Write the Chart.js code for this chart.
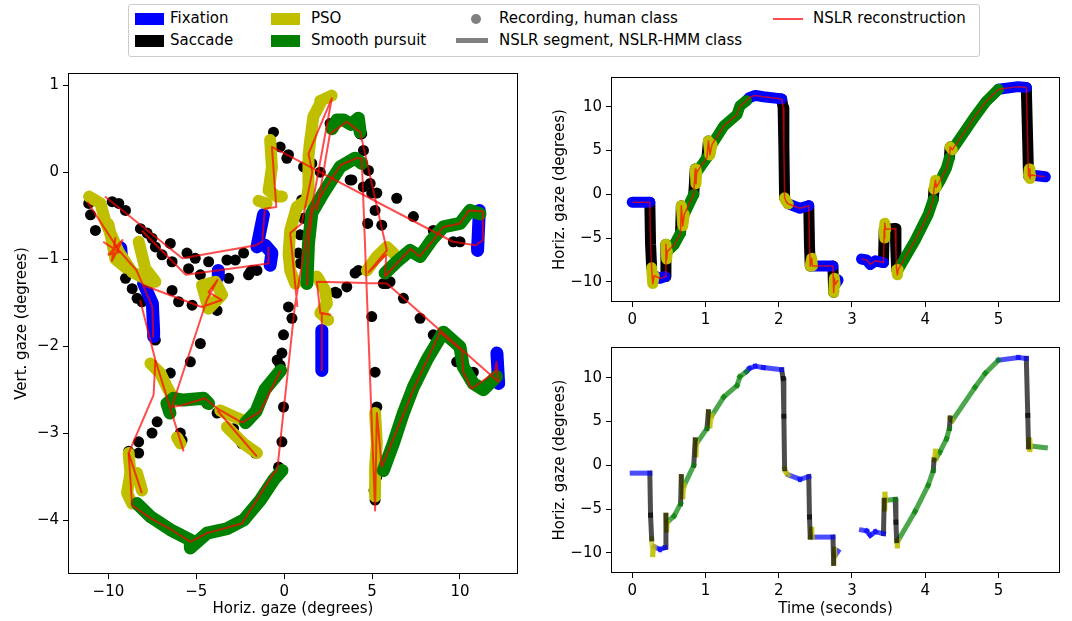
<!DOCTYPE html>
<html lang="en">
<head>
<meta charset="UTF-8">
<title>NSLR-HMM gaze classification</title>
<script src="https://cdn.jsdelivr.net/npm/chart.js"></script>
<style>
  body { margin: 0; background: #fff; font-family: "DejaVu Sans", sans-serif; }
  #wrap { position: relative; width: 1072px; height: 621px; overflow: hidden; }
  canvas { position: absolute; }
  .frame { position: absolute; left: 128px; top: 4px; width: 852px; height: 53px; border: 1px solid #ccc; border-radius: 3px; box-sizing: border-box; }
  .lg { position: absolute; font-size: 15px; line-height: 17px; color: #000; white-space: nowrap; }
  .sw { position: absolute; }
</style>
</head>
<body>
<div id="wrap">
  <div class="frame"></div>
  <div class="sw" style="left:135px;top:13px;width:29px;height:12px;background:#0000ff"></div>
  <div class="lg" style="left:170px;top:10px">Fixation</div>
  <div class="sw" style="left:135px;top:35px;width:29px;height:12px;background:#000"></div>
  <div class="lg" style="left:170px;top:32px">Saccade</div>
  <div class="sw" style="left:271px;top:13px;width:29px;height:12px;background:#bfbf00"></div>
  <div class="lg" style="left:311px;top:10px">PSO</div>
  <div class="sw" style="left:271px;top:35px;width:29px;height:12px;background:#008000"></div>
  <div class="lg" style="left:311px;top:32px">Smooth pursuit</div>
  <div class="sw" style="left:471px;top:14px;width:10px;height:10px;border-radius:50%;background:#808080"></div>
  <div class="lg" style="left:499px;top:10px">Recording, human class</div>
  <div class="sw" style="left:456px;top:38px;width:32px;height:5px;background:#808080"></div>
  <div class="lg" style="left:499px;top:32px">NSLR segment, NSLR-HMM class</div>
  <div class="sw" style="left:773px;top:18px;width:30px;height:2px;background:rgba(255,0,0,0.7)"></div>
  <div class="lg" style="left:813px;top:10px">NSLR reconstruction</div>

  <canvas id="gaze" width="530" height="561" style="left:0;top:60px"></canvas>
  <canvas id="recording" width="530" height="270" style="left:540px;top:60px"></canvas>
  <canvas id="segments" width="530" height="291" style="left:540px;top:330px"></canvas>
</div>

<script>
// tick labels
const tickGazeX = [-10, -5, 0, 5, 10];
const tickGazeY = [1, 0, -1, -2, -3, -4];
const tickTime = [0, 1, 2, 3, 4, 5];
const tickHoriz = [-10, -5, 0, 5, 10];

// NSLR segment breakpoints (time in s, horizontal gaze in deg)
const segTime = [0.00,0.24,0.25,0.265,0.28,0.30,0.38,0.45,0.46,0.47,0.48,0.57,0.66,0.67,0.69,0.71,0.84,0.86,0.87,0.88,
  1.02,1.04,1.06,1.09,1.25,1.43,1.47,1.56,1.60,1.68,1.79,2.04,2.06,2.07,2.08,2.10,2.13,2.29,2.41,2.42,
  2.43,2.45,2.46,2.74,2.75,2.76,2.77,2.81,3.13,3.20,3.25,3.32,3.43,3.44,3.445,3.45,3.46,3.59,3.60,3.61,
  3.62,3.63,3.86,4.04,4.11,4.12,4.14,4.15,4.20,4.29,4.33,4.34,4.37,4.68,4.82,5.00,5.27,5.38,5.40,5.41,
  5.42,5.43,5.44,5.64];
const segHoriz = [-0.9,-0.9,-5.7,-8.4,-10.2,-9.3,-9.6,-9.4,-5.7,-7.4,-6.5,-5.8,-4.4,-1.3,-3.6,-2.3,0.0,2.9,1.2,2.5,
  4.2,6.1,4.5,5.7,7.8,9.1,10.1,10.7,11.05,11.3,11.15,10.9,9.9,5.6,-0.4,-0.8,-1.1,-1.6,-1.3,-5.9,
  -8.2,-7.3,-8.2,-8.2,-11.2,-9.6,-10.3,-9.8,-7.4,-7.5,-8.0,-7.6,-7.8,-4.0,-5.0,-3.3,-4.0,-3.9,-6.5,-8.6,
  -9.2,-8.6,-5.3,-2.3,-0.6,0.6,1.6,0.8,1.5,3.0,4.2,5.4,5.1,8.9,10.5,12.0,12.3,12.2,5.7,2.1,
  2.9,1.8,2.2,2.0];
// NSLR-HMM class of each segment (between breakpoint i and i+1)
const segClass = ['fix','sacc','sacc','pso','pso','fix','fix','sacc','pso','pso',
  'pur','pur','sacc','pso','pso','pur','sacc','pso','pso','pur',
  'sacc','pso','pso','pur','pur','pur','pur','fix','fix','fix',
  'fix','sacc','sacc','sacc','pso','pso','fix','fix','sacc','sacc',
  'pso','pso','fix','sacc','pso','pso','fix','gap','fix','fix',
  'fix','fix','sacc','pso','pso','pso','pur','sacc','sacc','pso',
  'pso','pur','pur','pur','sacc','pso','pso','pur','pur','pur',
  'sacc','pso','pur','pur','pur','fix','fix','sacc','sacc','pso',
  'pso','pso','pur'];
// human label of the recording over the same stretches
const humanClass = segClass.map((c, i) => i === 56 ? 'sacc' : i === 82 ? 'fix' : c);

// gaze plane (horizontal, vertical deg), human classes
const gazeFixation = [
  [[-1.18,-0.49],[-1.55,-0.86]],
  [[-1.08,-0.84],[-0.70,-0.93],[-0.80,-1.07]],
  [[-8.0,-1.28],[-7.5,-1.51],[-7.43,-1.82],[-7.43,-1.89]],
  [[-9.3,-0.87],[-9.25,-1.0]],
  [[-3.75,-1.13],[-3.75,-1.2]],
  [[2.14,-1.82],[2.14,-2.28]],
  [[11.1,-0.44],[11.0,-0.9]],
  [[12.1,-2.08],[12.2,-2.43]]
];
const gazePursuit = [
  [[2.71,0.50],[3.0,0.6],[3.37,0.60],[3.8,0.55],[4.22,0.62],[4.32,0.46]],
  [[1.29,-1.28],[1.38,-0.82],[1.57,-0.47],[2.23,-0.24],[3.18,0.06],[4.03,0.16],[4.41,0.10]],
  [[5.74,-1.16],[6.40,-1.03],[7.16,-0.90],[7.73,-0.97],[8.39,-0.78],[9.05,-0.63],[10.0,-0.59],[10.57,-0.44],[11.14,-0.48]],
  [[5.64,-3.43],[6.21,-3.12],[6.78,-2.77],[7.35,-2.47],[8.11,-2.16],[9.05,-1.84],[10.0,-2.01],[10.19,-2.24],[10.76,-2.43],[11.33,-2.5],[12.08,-2.35]],
  [[-8.37,-3.81],[-7.61,-3.96],[-6.48,-4.11],[-5.34,-4.23],[-5.34,-4.32],[-4.39,-4.15],[-3.26,-4.10],[-2.31,-4.0],[-1.36,-3.77],[-0.61,-3.54],[-0.13,-3.43]],
  [[-6.5,-2.77],[-6.67,-2.66],[-6.3,-2.6],[-5.72,-2.62],[-4.59,-2.60],[-4.30,-2.66]],
  [[-2.2,-2.88],[-1.6,-2.75],[-1.1,-2.5],[-0.2,-2.28]]
];
const gazePso = [
  [[-11.1,-0.28],[-10.45,-0.36],[-10.17,-0.57],[-9.41,-0.92],[-8.65,-1.15],[-7.52,-1.26]],
  [[-8.28,-0.80],[-7.9,-1.11],[-7.33,-1.26]],
  [[-10.0,-0.6],[-9.6,-1.0],[-9.0,-1.1]],
  [[-4.68,-1.30],[-3.92,-1.26],[-3.54,-1.41],[-4.30,-1.57],[-4.68,-1.30]],
  [[-0.8,0.37],[-0.7,0.06],[-0.8,-0.09],[-0.89,-0.21],[-0.41,-0.28],[-0.13,-0.28]],
  [[-1.46,-0.33],[-1.0,-0.36]],
  [[2.05,0.79],[1.66,0.64],[1.48,0.37],[1.38,0.18],[1.38,-0.17],[1.29,-0.32],[0.72,-0.40],[0.34,-0.67],[0.25,-0.94],[0.34,-1.13],[0.63,-1.28]],
  [[2.05,0.82],[2.7,0.88]],
  [[4.7,-1.13],[5.27,-0.97],[5.84,-0.86],[6.21,-0.93]],
  [[1.86,-1.2],[2.33,-1.36],[2.43,-1.51],[2.05,-1.62],[2.5,-1.70]],
  [[-7.61,-2.20],[-7.05,-2.31],[-6.67,-2.47],[-6.38,-2.58]],
  [[-6.1,-3.05],[-5.9,-3.12]],
  [[-3.64,-2.74],[-2.88,-2.81],[-2.4,-2.85]],
  [[-3.26,-2.93],[-2.31,-3.12],[-1.55,-3.23]],
  [[-8.85,-3.23],[-8.75,-3.46],[-8.94,-3.69],[-8.65,-3.81]],
  [[-8.37,-3.46],[-8.09,-3.66]],
  [[5.17,-2.77],[5.27,-3.12],[5.17,-3.39],[5.17,-3.73]]
];
const gazeSaccadeDots = [
  [-11.12,-0.36],[-11.02,-0.49],[-10.74,-0.67],[-9.79,-0.34],[-9.41,-0.36],[-9.03,-0.44],[-8.18,-0.65],[-7.8,-0.70],
  [-7.52,-0.76],[-7.33,-0.86],[-6.95,-0.95],[-6.48,-0.82],[-6.38,-1.03],[-5.53,-0.93],[-5.06,-0.99],[-4.3,-1.03],
  [-3.26,-1.01],[-2.78,-1.01],[-2.31,-0.93],[-2.03,-1.18],[-5.44,-1.11],[-4.77,-1.18],[-3.16,-1.22],[-9.03,-1.22],
  [-8.65,-1.34],[-8.37,-1.45],[-8.09,-1.49],[-6.38,-1.36],[-6.01,-1.49],[-5.24,-1.53],[-3.82,-1.59],[-1.84,-1.13],
  [-1.55,-1.13],[-1.93,-1.15],
  [-0.61,0.46],[-0.23,0.29],[0.24,0.20],[0.15,0.16],[1.10,0.06],[1.57,0.10],[2.05,0.0],[3.75,-0.09],[4.5,-0.17],
  [4.89,-0.13],[5.27,-0.24],[6.4,-0.30],[7.35,-0.51],[8.48,-0.67],[9.62,-0.80],[10.0,-0.80],[10.95,-0.86],
  [4.41,0.44],[4.51,0.25],[4.79,0.02],[4.98,-0.24],[5.17,-0.44],[5.55,-0.61],[4.75,-0.59],
  [5.84,-1.28],[6.78,-1.45],[7.73,-1.68],[8.48,-1.87],[9.81,-2.18],[10.76,-2.30],[12.08,-2.39],
  [2.99,-1.39],[3.56,-1.32],[4.03,-1.16],[4.22,-1.13],[5.64,-1.28],[6.02,-1.26],[2.9,-1.38],
  [4.98,-1.66],[5.17,-2.30],[5.27,-2.70],[5.27,-3.50],[5.17,-3.77],[5.11,-3.66],
  [0.24,-1.55],[0.44,-1.68],[-0.04,-1.87],[-0.13,-2.08],[-0.23,-2.22],[-0.04,-2.70],[-0.13,-3.10],[-0.32,-3.39],[-0.4,-2.16],
  [-4.77,-1.97],[-5.34,-2.18],[-6.48,-2.31],[-7.23,-2.87],[-7.52,-3.0],[-8.28,-3.1],[-8.28,-3.23],[-8.85,-3.21],
  [-5.91,-3.0],[-5.81,-3.08],
  [-4.39,-2.66],[-3.82,-2.77],[-2.88,-2.95],[-2.4,-3.12],[-1.65,-3.23],
  [2.61,0.56],[4.32,0.44],[1.19,0.06],[1.0,-0.32],[1.1,-0.53],[0.91,-0.72],[0.81,-0.93],[0.91,-1.05],[3.85,-0.09],
  [-7.43,-1.62],[-7.33,-1.93]
];
// NSLR reconstruction in the gaze plane
const gazeReconstruction = [
  [[-11.2,-0.34],[-9.4,-0.9],[-8.4,-1.13],[-7.5,-1.55],[-7.45,-1.9]],
  [[-10.2,-0.28],[-5.8,-0.99],[-1.6,-0.84],[-1.25,-0.80],[-1.1,-0.42],[-0.45,-0.40],[-0.7,0.29],[9.6,-0.80],[10.9,-0.84],[11.3,-0.78],[11.3,-0.45]],
  [[-8.1,-0.67],[-5.6,-1.18],[-0.9,-1.05],[-0.9,-0.86]],
  [[-10.3,-0.8],[-9.4,-0.92],[-10.0,-0.95],[-9.2,-0.78],[-9.8,-1.02],[-9.6,-0.75]],
  [[-8.0,-1.3],[-4.7,-1.55],[-3.55,-1.47],[-4.3,-1.38],[-3.8,-1.24],[-4.4,-1.47],[-6.4,-2.7],[-5.8,-2.68],[-4.5,-2.6],[-3.8,-2.72],[-2.4,-2.88],[-1.4,-2.76],[-0.2,-2.28]],
  [[-3.8,-2.74],[-1.55,-3.27]],
  [[-8.2,-1.47],[-7.33,-2.16],[-5.72,-3.21]],
  [[-7.33,-2.16],[-7.43,-2.56],[-8.85,-3.23],[-8.65,-3.83],[-8.37,-3.87],[-7.6,-3.98],[-6.5,-4.1],[-5.34,-4.25],[-4.4,-4.15],[-2.4,-4.04],[-0.6,-3.46],[-0.4,-3.43]],
  [[-8.85,-3.23],[-8.1,-3.69]],
  [[-0.4,-3.43],[0.6,-1.55],[1.3,-0.7],[2.71,0.85],[1.38,0.21],[1.6,0.0],[1.0,-0.59],[0.34,-0.7],[0.75,-1.55]],
  [[1.86,-0.44],[2.6,0.44],[3.56,0.58],[4.32,0.46],[5.84,-0.9],[4.8,-1.15],[5.8,-0.95],[5.74,-1.2],[6.4,-1.05],[7.2,-0.88],[7.7,-0.97],[8.4,-0.8],[9.05,-0.63],[10.0,-0.59],[10.5,-0.44],[11.3,-0.45]],
  [[1.3,-1.3],[1.38,-0.82],[1.6,-0.45],[2.3,-0.2],[3.2,0.08],[4.1,0.16],[4.41,0.16],[5.17,-3.89],[5.27,-2.77],[5.55,-3.39],[7.35,-2.5],[8.86,-1.84],[10.1,-2.05],[10.19,-2.3],[10.66,-2.49],[11.99,-2.3],[12.08,-2.18],[12.18,-2.41],[5.84,-1.28],[1.86,-1.26],[2.05,-1.62],[2.6,-1.64],[2.14,-1.62],[2.14,-2.28]]
];

const humanColor = { fix: '#0000ff', sacc: '#000000', pso: '#bfbf00', pur: '#008000' };
const nslrColor = { fix: 'rgba(0,0,255,0.7)', sacc: 'rgba(0,0,0,0.7)', pso: 'rgba(191,191,0,0.7)', pur: 'rgba(0,128,0,0.7)' };
const drawOrder = { pso: 1, pur: 2, fix: 3, sacc: 4 };
const redLine = 'rgba(255,0,0,0.7)';
const font = { family: 'DejaVu Sans', size: 15 };

const fmt = v => String(v).replace('-', '\u2212');
const pts = arr => arr.map(p => ({ x: p[0], y: p[1] }));

function stroke(arr, color, width, order, cap) {
  return { data: pts(arr), showLine: true, borderColor: color, backgroundColor: color, borderWidth: width,
    pointRadius: 0, tension: 0, borderCapStyle: cap || 'round', borderJoinStyle: 'round', order: order };
}

// consecutive segments of one class joined into one stroke
function runs(classes) {
  const out = [];
  classes.forEach((c, i) => {
    if (c === 'gap') return;
    const last = out[out.length - 1];
    const p1 = [segTime[i + 1], segHoriz[i + 1]];
    if (last && last.cls === c && last.end === i) { last.pts.push(p1); last.end = i + 1; }
    else out.push({ cls: c, pts: [[segTime[i], segHoriz[i]], p1], end: i + 1 });
  });
  return out;
}

function reconstruction() {
  const out = [];
  let cur = [];
  segClass.forEach((c, i) => {
    if (c === 'gap') { out.push(cur); cur = []; return; }
    if (!cur.length) cur.push([segTime[i], segHoriz[i]]);
    cur.push([segTime[i + 1], segHoriz[i + 1]]);
  });
  out.push(cur);
  return out;
}

const boxPlugin = {
  id: 'box',
  afterDraw(chart) {
    const { ctx, chartArea: a } = chart;
    ctx.save();
    ctx.strokeStyle = '#000';
    ctx.lineWidth = 1;
    ctx.strokeRect(Math.round(a.left) + 0.5, Math.round(a.top) + 0.5, Math.round(a.right - a.left) - 1, Math.round(a.bottom - a.top) - 1);
    ctx.restore();
  }
};

function axis(o) {
  return {
    type: 'linear', min: o.min, max: o.max,
    afterBuildTicks: s => { s.ticks = o.ticks.map(v => ({ value: v })); },
    afterFit: s => { if (o.width) s.width = o.width; if (o.height) s.height = o.height; },
    grid: { display: true, drawOnChartArea: false, drawTicks: true, tickLength: 5, color: '#000', lineWidth: 1 },
    border: { display: false },
    ticks: { color: '#000', font: font, padding: 4, maxRotation: 0, autoSkip: false, callback: v => fmt(v) },
    title: o.title ? { display: true, text: o.title, color: '#000', font: font, padding: o.titlePad } : { display: false }
  };
}

function makeChart(id, datasets, xOpt, yOpt, padding) {
  return new Chart(document.getElementById(id), {
    type: 'scatter',
    data: { datasets: datasets },
    options: {
      responsive: false, animation: false, events: [],
      layout: { padding: padding },
      plugins: { legend: { display: false }, tooltip: { enabled: false } },
      scales: { x: axis(xOpt), y: axis(yOpt) }
    },
    plugins: [boxPlugin]
  });
}

// left: gaze plane
const gazeSets = [
  { data: pts(gazeSaccadeDots), pointRadius: 5.5, pointBackgroundColor: '#000', pointBorderWidth: 0, showLine: false, order: 5 },
  ...gazeFixation.map(s => stroke(s, humanColor.fix, 13, 4)),
  ...gazePso.map(s => stroke(s, humanColor.pso, 12, 3)),
  ...gazePursuit.map(s => stroke(s, humanColor.pur, 13, 2)),
  ...gazeReconstruction.map(s => stroke(s, redLine, 2, 0, 'butt'))
];
makeChart('gaze', gazeSets,
  { min: -12.3, max: 13.3, ticks: tickGazeX, height: 47, title: 'Horiz. gaze (degrees)', titlePad: { top: 4, bottom: 3 } },
  { min: -4.62, max: 1.14, ticks: tickGazeY, width: 68, title: 'Vert. gaze (degrees)', titlePad: { top: 13, bottom: 0 } },
  { top: 13, right: 12, left: 0, bottom: 0 });

// top right: recording with human classes and NSLR reconstruction
const recSets = [
  ...runs(humanClass).map(r => stroke(r.pts, humanColor[r.cls], 11, drawOrder[r.cls])),
  ...reconstruction().map(s => stroke(s, redLine, 1.5, 0, 'butt'))
];
makeChart('recording', recSets,
  { min: -0.29, max: 5.84, ticks: tickTime, height: 28 },
  { min: -12.3, max: 13.4, ticks: tickHoriz, width: 71, title: 'Horiz. gaze (degrees)', titlePad: { top: 11, bottom: 0 } },
  { top: 17, right: 10, left: 0, bottom: 0 });

// bottom right: NSLR segments with NSLR-HMM classes
const segSets = [];
segClass.forEach((c, i) => {
  if (c === 'gap') return;
  segSets.push(stroke([[segTime[i], segHoriz[i]], [segTime[i + 1], segHoriz[i + 1]]], nslrColor[c], 5, 0, 'square'));
});
makeChart('segments', segSets,
  { min: -0.29, max: 5.84, ticks: tickTime, height: 48, title: 'Time (seconds)', titlePad: { top: 4, bottom: 3 } },
  { min: -12.3, max: 13.5, ticks: tickHoriz, width: 71, title: 'Horiz. gaze (degrees)', titlePad: { top: 11, bottom: 0 } },
  { top: 17, right: 10, left: 0, bottom: 0 });
</script>
</body>
</html>
